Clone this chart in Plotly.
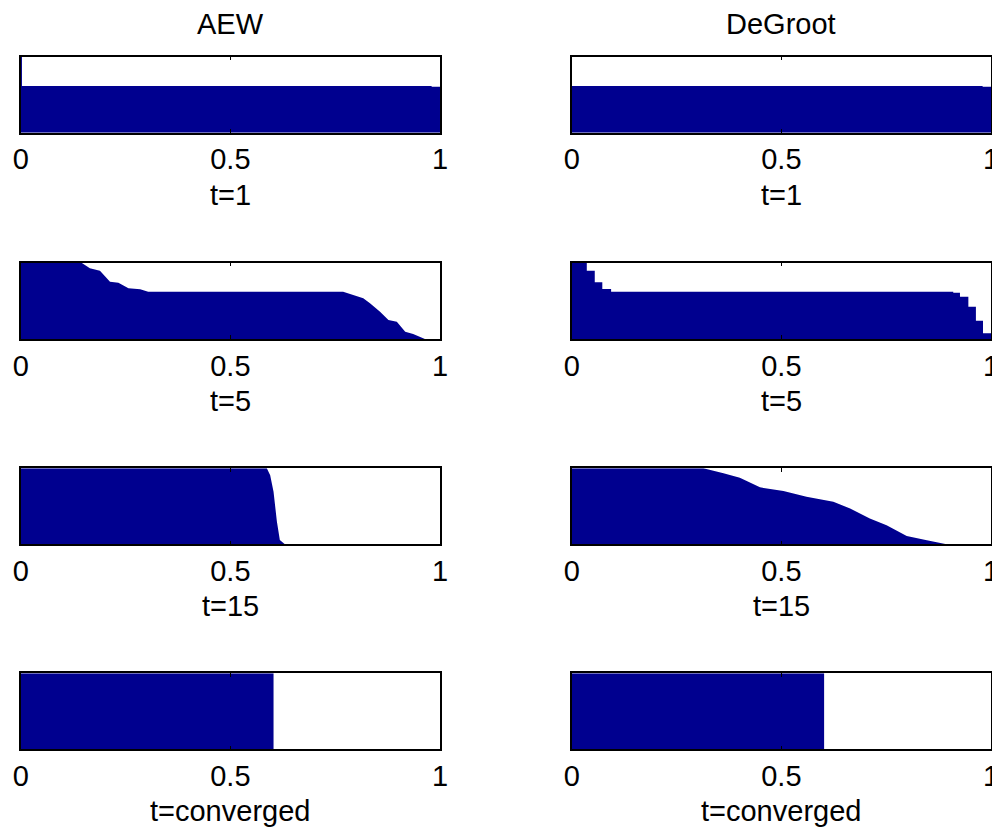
import plotly.graph_objects as go

OFF = 8  # page body margin the figure is drawn inside
W, H = 1000 - OFF, 833 - OFF
BLUE = "#00008F"
FONT = "Liberation Sans, Arial, Helvetica, sans-serif"

# ---- text ----
column_titles = ["AEW", "DeGroot"]
row_labels = ["t=1", "t=5", "t=15", "t=converged"]
tick_vals = [0, 0.5, 1]
tick_text = ["0", "0.5", "1"]

# ---- data (sorted opinion profile, x = fraction of agents) ----
aew_t1_x = [0, 0.003, 0.003, 0.98, 0.98, 1.0]
aew_t1_y = [1.0, 1.0, 0.614, 0.614, 0.604, 0.604]

degroot_t1_x = [0, 0.98, 0.98, 1.0]
degroot_t1_y = [0.614, 0.614, 0.604, 0.604]

aew_t5_x = [0, 0.145, 0.165, 0.189, 0.213, 0.233, 0.257, 0.285, 0.304, 0.769,
            0.793, 0.817, 0.833, 0.857, 0.877, 0.897, 0.917, 0.936, 0.964, 1.0]
aew_t5_y = [1.0, 1.0, 0.926, 0.895, 0.751, 0.738, 0.664, 0.651, 0.62, 0.62,
            0.577, 0.533, 0.468, 0.358, 0.249, 0.227, 0.096, 0.066, 0.0, 0.0]

degroot_t5_x = [0, 0.036, 0.055, 0.073, 0.094, 0.910, 0.926, 0.946, 0.964, 0.981, 1.0]
degroot_t5_y = [1.0, 0.895, 0.743, 0.655, 0.62, 0.607, 0.554, 0.423, 0.240, 0.075, 0.075]

aew_t15_x = [0, 0.587, 0.595, 0.603, 0.611, 0.618, 0.630, 1.0]
aew_t15_y = [1.0, 1.0, 0.91, 0.69, 0.30, 0.057, 0.0, 0.0]

degroot_t15_x = [0, 0.314, 0.362, 0.401, 0.449, 0.505, 0.56, 0.624, 0.664, 0.711,
                 0.751, 0.799, 0.847, 0.894, 1.0]
degroot_t15_y = [1.0, 1.0, 0.934, 0.877, 0.75, 0.70, 0.625, 0.559, 0.47, 0.34,
                 0.25, 0.11, 0.053, 0.0, 0.0]

aew_conv_x = [0, 0.603, 0.603, 1.0]
aew_conv_y = [1.0, 1.0, 0.0, 0.0]

degroot_conv_x = [0, 0.602, 0.602, 1.0]
degroot_conv_y = [1.0, 1.0, 0.0, 0.0]

panels = [
    [(aew_t1_x, aew_t1_y, "linear"), (degroot_t1_x, degroot_t1_y, "linear")],
    [(aew_t5_x, aew_t5_y, "linear"), (degroot_t5_x, degroot_t5_y, "hv")],
    [(aew_t15_x, aew_t15_y, "linear"), (degroot_t15_x, degroot_t15_y, "linear")],
    [(aew_conv_x, aew_conv_y, "linear"), (degroot_conv_x, degroot_conv_y, "linear")],
]

# ---- layout geometry (pixels on the page) ----
col_lr = [(20.7, 440.0), (571.7, 991.0)]
row_tb = [(56.7, 132.7), (262.7, 339.0), (468.3, 544.3), (673.3, 749.3)]
xlabel_gap = 62


def px_x(p):
    return (p - OFF) / W


def px_y(p):
    return 1 - (p - OFF) / H


fig = go.Figure()
layout = dict(
    width=W, height=H, margin=dict(l=0, r=0, t=0, b=0, pad=0),
    paper_bgcolor="white", plot_bgcolor="white", showlegend=False,
    font=dict(family=FONT, size=29, color="black"),
)
annotations = []

for r in range(4):
    for c in range(2):
        k = r * 2 + c + 1
        xs, ys, shape = panels[r][c]
        fig.add_trace(go.Scatter(
            x=xs, y=ys, mode="lines", fill="tozeroy", fillcolor=BLUE,
            line=dict(width=0, color=BLUE, shape=shape), hoverinfo="skip",
            xaxis=f"x{k}", yaxis=f"y{k}",
        ))
        l, rr = col_lr[c]
        t, b = row_tb[r]
        xname = "xaxis" if k == 1 else f"xaxis{k}"
        yname = "yaxis" if k == 1 else f"yaxis{k}"
        layout[xname] = dict(
            domain=[px_x(l), px_x(rr)], range=[0, 1], anchor=f"y{k}",
            tickvals=tick_vals, ticktext=tick_text, ticks="inside", ticklen=4,
            tickwidth=1, tickcolor="black", showline=True, linecolor="black",
            linewidth=1.5, mirror="ticks", showgrid=False, zeroline=False,
            tickfont=dict(size=29), ticklabelstandoff=0, fixedrange=True,
            automargin=False,
        )
        layout[yname] = dict(
            domain=[px_y(b), px_y(t)], range=[0, 1], anchor=f"x{k}",
            showticklabels=False, ticks="", showline=True, linecolor="black",
            linewidth=1.5, mirror=True, showgrid=False, zeroline=False,
            fixedrange=True, automargin=False,
        )
        annotations.append(dict(
            text=row_labels[r], xref="paper", yref="paper",
            x=px_x((l + rr) / 2), y=px_y(b + xlabel_gap),
            xanchor="center", yanchor="middle", showarrow=False,
            font=dict(size=29),
        ))

for c in range(2):
    l, rr = col_lr[c]
    annotations.append(dict(
        text=column_titles[c], xref="paper", yref="paper",
        x=px_x((l + rr) / 2), y=px_y(24), xanchor="center", yanchor="middle",
        showarrow=False, font=dict(size=29),
    ))

layout["annotations"] = annotations
fig.update_layout(**layout)
fig.write_html("out.html")
